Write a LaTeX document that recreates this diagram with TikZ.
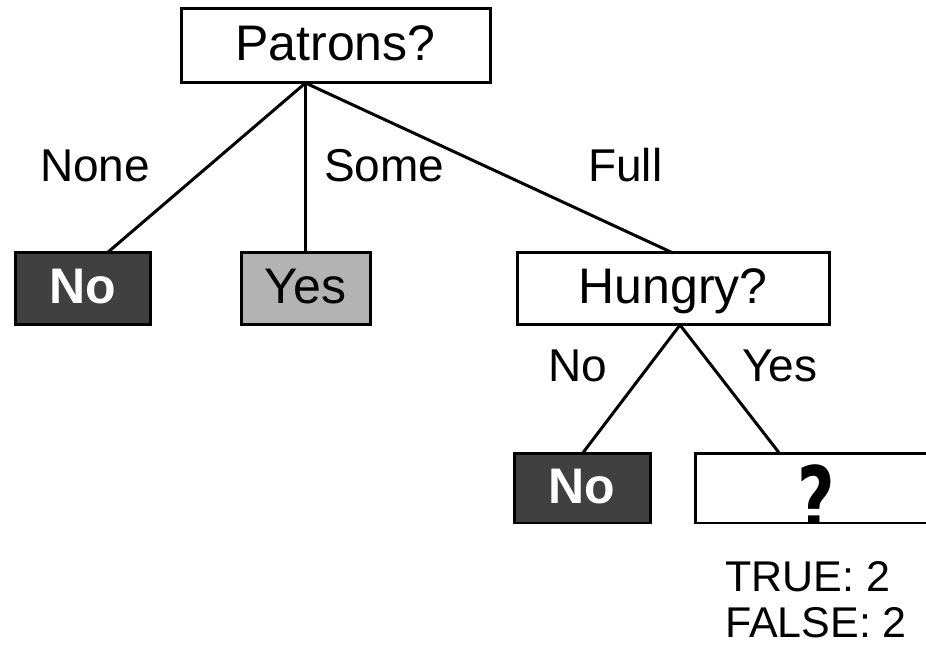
\documentclass[tikz,border=0pt]{standalone}
\usepackage{fontspec}
\usepackage{graphicx}
\setmainfont{Liberation Sans}
\newfontfamily\heavyfont{DejaVu Sans}
\usetikzlibrary{calc}
\definecolor{leafdark}{HTML}{404040}
\definecolor{leafgray}{HTML}{B3B3B3}

\begin{document}
\begin{tikzpicture}[x=1pt,y=1pt,
  testbox/.style={draw=black,line width=3pt,fill=white,inner sep=0pt,outer sep=0pt,
    text height=37pt,text depth=7pt,font=\fontsize{50}{60}\selectfont},
  nobox/.style={testbox,fill=leafdark,text=white,font=\fontsize{50}{60}\selectfont\bfseries},
  yesbox/.style={testbox,fill=leafgray},
  branch/.style={line width=3pt},
  edgelbl/.style={anchor=base west,inner sep=0pt,font=\fontsize{46}{55}\selectfont},
  countlbl/.style={anchor=base west,inner sep=0pt,font=\fontsize{43}{52}\selectfont}]
\useasboundingbox (0,0) rectangle (926,647);
\begin{scope}
\clip (0,123) rectangle (926,647);
\node[testbox,minimum width=309pt,minimum height=74pt] (patrons) at (335.5,601) {Patrons?};
\node[nobox,minimum width=135pt,minimum height=72pt] (noA) at (82.5,358) {No};
\node[yesbox,minimum width=129pt,minimum height=72pt] (yesA) at (305.5,358) {Yes};
\node[testbox,minimum width=312pt,minimum height=72pt] (hungry) at (673,358) {Hungry?};
\node[nobox,minimum width=136pt,minimum height=70pt] (noB) at (582,158) {No};
\node[testbox,minimum width=240pt,minimum height=70pt] (qbox) at (815,158) {};
\node[anchor=north,inner sep=0pt,font=\heavyfont\fontsize{90}{100}\selectfont\bfseries] (qmark)
  at ($(qbox.north)+(1,-11)$) {\scalebox{0.72}[1]{?}};
\coordinate (patronsfoot) at ($(patrons.south)+(-30,0)$);
\coordinate (noAtop) at ($(noA.north)+(24.5,0)$);
\coordinate (hungryfoot) at ($(hungry.south)+(7,0)$);
\coordinate (qboxtop) at ($(qbox.north)+(-35,0)$);
\draw[branch] (patronsfoot) -- (noAtop);
\draw[branch] (patronsfoot) -- (yesA.north);
\draw[branch] (patronsfoot) -- (hungry.north);
\draw[branch] (hungryfoot) -- (noB.north);
\draw[branch] (hungryfoot) -- (qboxtop);
\end{scope}
\node[edgelbl] (lnone) at (40,465) {None};
\node[edgelbl] (lsome) at (324,465) {Some};
\node[edgelbl] (lfull) at (588,465) {Full};
\node[edgelbl] (lno) at (548,265) {No};
\node[edgelbl] (lyes) at (742,265) {Yes};
\node[countlbl] (ltrue) at (725,55) {TRUE: 2};
\node[countlbl] (lfalse) at (725,9) {FALSE: 2};
\end{tikzpicture}
\end{document}
